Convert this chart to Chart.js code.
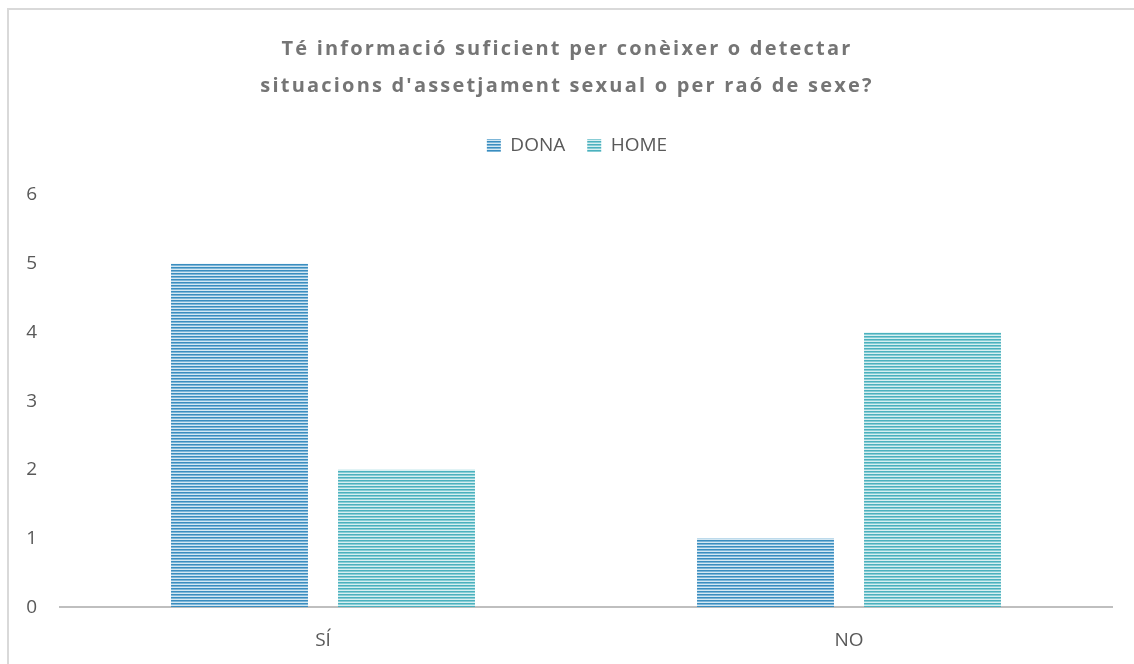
<!DOCTYPE html>
<html>
<head>
<meta charset="utf-8">
<script src="https://cdn.jsdelivr.net/npm/chart.js@4/dist/chart.umd.min.js"></script>
<style>
  html, body { margin: 0; padding: 0; background: #fff; }
  #wrap { position: relative; width: 1134px; height: 664px; overflow: hidden; }
  #frame { position: absolute; left: 7px; top: 8px; width: 1140px; height: 670px; border: 2px solid #d9d9d9; box-sizing: border-box; }
  #title {
    position: absolute; left: 0; top: 29px; width: 1134px; text-align: center;
    font-family: "Open Sans", "Noto Sans", sans-serif; font-weight: 700; font-size: 20px;
    letter-spacing: 2.2px; line-height: 37px; color: #757575;
  }
  canvas { position: absolute; left: 0; top: 0; }
</style>
</head>
<body>
<div id="wrap">
  <div id="frame"></div>
  <canvas id="chart" width="1134" height="664"></canvas>
  <div id="title">Té informació suficient per conèixer o detectar<br>situacions d'assetjament sexual o per raó de sexe?</div>
</div>
<script>
const categories = ['SÍ', 'NO'];
const donaValues = [5, 1];
const homeValues = [2, 4];
const yTicks = [0, 1, 2, 3, 4, 5, 6];

const FONT = '"Open Sans", "Noto Sans", sans-serif';

function stripes(dark, mid, light) {
  const c = document.createElement('canvas');
  c.width = 4;
  c.height = 3;
  const g = c.getContext('2d');
  g.fillStyle = dark; g.fillRect(0, 0, 4, 1);
  g.fillStyle = mid; g.fillRect(0, 1, 4, 1);
  g.fillStyle = light; g.fillRect(0, 2, 4, 1);
  return g.createPattern(c, 'repeat');
}

// extra room under the legend, and centre it on the page instead of the plot
const legendGap = {
  id: 'legendGap',
  beforeInit(chart) {
    const fit = chart.legend.fit;
    chart.legend.fit = function () {
      fit.call(this);
      this.height += 30;
    };
  },
  afterLayout(chart) {
    chart.legend.left += 21;
    chart.legend.right += 21;
  }
};

const ctx = document.getElementById('chart').getContext('2d');
const donaFill = stripes('#3a8dbf', '#7db6d8', '#d4e8f3');
const homeFill = stripes('#4bb1be', '#88cdd5', '#d6eff1');

new Chart(ctx, {
  type: 'bar',
  data: {
    labels: categories,
    datasets: [
      { label: 'DONA', data: donaValues, backgroundColor: donaFill, borderWidth: 0 },
      { label: 'HOME', data: homeValues, backgroundColor: homeFill, borderWidth: 0 }
    ]
  },
  plugins: [legendGap],
  options: {
    responsive: false,
    animation: false,
    categoryPercentage: 0.635,
    barPercentage: 0.82,
    layout: { padding: { left: 0, right: 22, top: 114, bottom: -2 } },
    plugins: {
      title: { display: false },
      tooltip: { enabled: false },
      legend: {
        display: true,
        labels: {
          boxWidth: 14, boxHeight: 13, padding: 22,
          color: '#595959',
          font: { family: FONT, size: 19 }
        }
      }
    },
    scales: {
      x: {
        grid: { display: false },
        border: { color: '#bfbfbf', width: 2 },
        ticks: { color: '#595959', padding: 14, font: { family: FONT, size: 19 } }
      },
      y: {
        min: 0, max: 6,
        grid: { display: false, drawTicks: false },
        border: { display: false },
        afterFit: s => { s.width = 60; },
        afterBuildTicks: s => { s.ticks = yTicks.map(v => ({ value: v })); },
        ticks: { color: '#595959', padding: 23, font: { family: FONT, size: 19 } }
      }
    }
  }
});
</script>
</body>
</html>
